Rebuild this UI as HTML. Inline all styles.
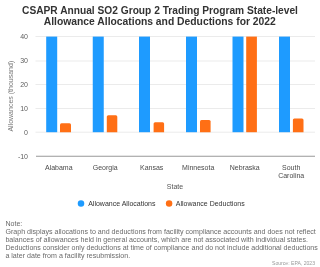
<!DOCTYPE html>
<html><head><meta charset="utf-8">
<style>
html,body{margin:0;padding:0;background:#fff;width:320px;height:267px;overflow:hidden}
svg{display:block;will-change:transform}
text{font-family:"Liberation Sans",sans-serif}
</style></head><body>
<svg width="320" height="267" viewBox="0 0 320 267">
<rect width="320" height="267" fill="#fff"/>
<!-- title -->
<text x="160" y="13.6" text-anchor="middle" font-size="10.2" font-weight="bold" fill="#333">CSAPR Annual SO2 Group 2 Trading Program State-level</text>
<text x="159.8" y="25.2" text-anchor="middle" font-size="10.33" font-weight="bold" fill="#333">Allowance Allocations and Deductions for 2022</text>
<!-- gridlines -->
<g stroke="#ebebeb" stroke-width="1">
<line x1="35.5" y1="36.5" x2="315" y2="36.5"/>
<line x1="35.5" y1="61" x2="315" y2="61"/>
<line x1="35.5" y1="84.5" x2="315" y2="84.5"/>
<line x1="35.5" y1="108.5" x2="315" y2="108.5"/>
<line x1="35.5" y1="132.2" x2="315" y2="132.2"/>
</g>
<line x1="36" y1="156.3" x2="315" y2="156.3" stroke="#999" stroke-width="1.1"/>
<!-- y labels -->
<g font-size="7" fill="#5e5e5e" text-anchor="end">
<text x="28" y="39">40</text>
<text x="28" y="63">30</text>
<text x="28" y="87">20</text>
<text x="28" y="111">10</text>
<text x="28" y="135">0</text>
<text x="28" y="159">-10</text>
</g>
<text transform="translate(13.2,96.2) rotate(-90)" text-anchor="middle" font-size="7" fill="#777">Allowances (thousand)</text>
<!-- bars -->
<g fill="#1e9bff">
<rect x="46.2" y="36.6" width="11" height="95.6"/>
<rect x="92.75" y="36.6" width="11" height="95.6"/>
<rect x="139" y="36.6" width="11" height="95.6"/>
<rect x="186" y="36.6" width="11" height="95.6"/>
<rect x="232.5" y="36.6" width="11" height="95.6"/>
<rect x="279" y="36.6" width="11" height="95.6"/>
</g>
<g fill="#ff6f15">
<path d="M60 132.2V124.7Q60 123.2 61.5 123.2H69.5Q71 123.2 71 124.7V132.2Z"/>
<path d="M106.8 132.2V116.75Q106.8 115.25 108.3 115.25H115.8Q117.3 115.25 117.3 116.75V132.2Z"/>
<path d="M153.6 132.2V123.75Q153.6 122.25 155.1 122.25H162.6Q164.1 122.25 164.1 123.75V132.2Z"/>
<path d="M200 132.2V121.5Q200 120 201.5 120H209.1Q210.6 120 210.6 121.5V132.2Z"/>
<rect x="246.2" y="36.6" width="10.7" height="95.6"/>
<path d="M292.9 132.2V119.9Q292.9 118.4 294.4 118.4H302Q303.5 118.4 303.5 119.9V132.2Z"/>
</g>
<!-- x labels -->
<g font-size="7" fill="#4a4a4a" text-anchor="middle">
<text x="58.8" y="170.3">Alabama</text>
<text x="105.2" y="170.3">Georgia</text>
<text x="151.7" y="170.3">Kansas</text>
<text x="198.2" y="170.3">Minnesota</text>
<text x="244.7" y="170.3">Nebraska</text>
<text x="291.2" y="170.3">South</text>
<text x="291.2" y="177.8">Carolina</text>
</g>
<text x="175" y="188.9" text-anchor="middle" font-size="7" fill="#555">State</text>
<!-- legend -->
<circle cx="81" cy="203.4" r="3.25" fill="#1e9bff"/>
<text x="88.2" y="206" font-size="7" fill="#333">Allowance Allocations</text>
<circle cx="169.1" cy="203.4" r="3.25" fill="#ff6f15"/>
<text x="175.8" y="206" font-size="7" fill="#333">Allowance Deductions</text>
<!-- note -->
<g font-size="7.09" fill="#6a6a6a">
<text x="5.4" y="225.9">Note:</text>
<text x="5.4" y="233.9">Graph displays allocations to and deductions from facility compliance accounts and does not reflect</text>
<text x="5.4" y="241.9">balances of allowances held in general accounts, which are not associated with individual states.</text>
<text x="5.4" y="249.9">Deductions consider only deductions at time of compliance and do not include additional deductions</text>
<text x="5.4" y="257.9">a later date from a facility resubmission.</text>
</g>
<text x="315" y="264.6" text-anchor="end" font-size="5.1" fill="#999">Source: EPA, 2023</text>
</svg>
</body></html>
